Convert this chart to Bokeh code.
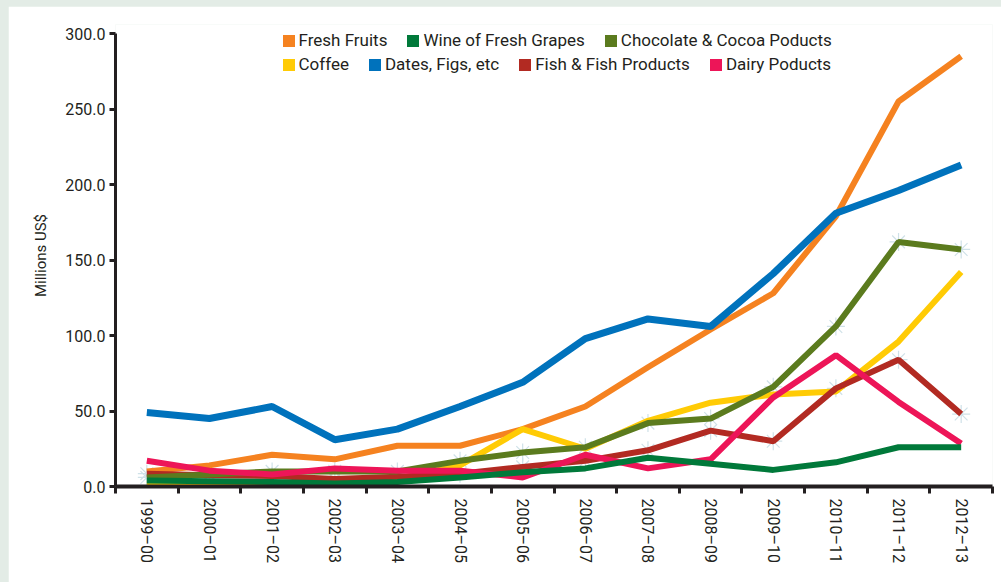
from bokeh.plotting import figure
from bokeh.layouts import column
from bokeh.models import Range1d, FixedTicker, NumeralTickFormatter, Legend, LegendItem
from bokeh.embed import file_html
from bokeh.resources import INLINE

# ---------------- data ----------------
categories = ["1999–00", "2000–01", "2001–02", "2002–03", "2003–04", "2004–05", "2005–06",
              "2006–07", "2007–08", "2008–09", "2009–10", "2010–11", "2011–12", "2012–13"]

fresh_fruits = [10, 14, 21, 18, 27, 27, 38, 53, 79, 104, 128, 179, 255, 285]
wine_grapes = [4, 3.5, 3, 2, 3, 6, 9.5, 12, 19, 15, 11, 16, 26, 26]
chocolate = [6, 8, 10, 10, 10, 17, 22.5, 26, 42, 45, 66, 106, 162, 157]
coffee = [2, 1, 0.5, 3, 5, 14, 38, 25, 43.5, 55.5, 61, 63, 96, 142]
dates_figs = [49, 45, 53, 31, 38, 53, 69, 98, 111, 106, 141, 181, 196, 213]
fish = [8.5, 7.5, 7, 5, 6.5, 8.5, 13, 17, 24, 37, 30, 65, 84, 48]
dairy = [17, 10.5, 8, 12, 10.5, 10.5, 6, 21, 12, 18, 59, 87, 56, 28.5]

y_ticks = [0, 50, 100, 150, 200, 250, 300]

series_names = ["Fresh Fruits", "Wine of Fresh Grapes", "Chocolate & Cocoa Poducts",
                "Coffee", "Dates, Figs, etc", "Fish & Fish Products", "Dairy Poducts"]
series_values = [fresh_fruits, wine_grapes, chocolate, coffee, dates_figs, fish, dairy]
series_colors = ["#F58220", "#00793A", "#5B7B1E", "#FFCB05", "#0072BC", "#B22A22", "#ED1558"]

FONT = "Roboto"
DARK = "#231F20"

xs = [i + 0.5 for i in range(len(categories))]

p = figure(width=993, height=576, output_backend="svg", toolbar_location=None,
           x_range=Range1d(0, len(categories)), y_range=Range1d(0, 306),
           min_border_left=107, min_border_top=18, min_border_right=9, min_border_bottom=96)
p.outline_line_color = None
p.grid.visible = False
p.background_fill_color = "white"
p.border_fill_color = "white"

# faint asterisk markers (under the lines) on chocolate and fish series
for vals in (chocolate, fish):
    p.scatter(xs, vals, marker="asterisk", size=18, line_color="#CFE1E8", line_width=1.2)

# draw order
order = [0, 3, 5, 2, 6, 1, 4]
widths = {4: 7}
for i in order:
    p.line(xs, series_values[i], line_color=series_colors[i], line_width=widths.get(i, 6))

# legend swatches: zero-area quads built from each series (invisible in the plot)
swatches = []
for vals, c in zip(series_values, series_colors):
    swatches.append(p.quad(left=xs, right=xs, top=vals, bottom=vals,
                           fill_color=c, line_color=None))

def make_legend(idx, loc):
    lg = Legend(items=[LegendItem(label=series_names[i], renderers=[swatches[i]]) for i in idx],
                location=loc, orientation="horizontal", spacing=18,
                padding=0, margin=0, border_line_color=None, background_fill_alpha=0,
                glyph_width=15, glyph_height=15, label_standoff=3,
                label_text_font=FONT, label_text_font_size="17px", label_text_color=DARK)
    p.add_layout(lg, "center")

make_legend([0, 1, 2], (165.5, 436))
make_legend([3, 4, 5, 6], (165.5, 412))

# x axis
xa = p.xaxis[0]
xa.ticker = FixedTicker(ticks=xs, minor_ticks=list(range(len(categories) + 1)))
xa.major_label_overrides = {x: c for x, c in zip(xs, categories)}
xa.major_label_orientation = "vertical"
xa.major_tick_line_color = None
xa.major_tick_out = 7
xa.major_tick_in = 0
xa.minor_tick_line_color = DARK
xa.minor_tick_line_width = 3
xa.minor_tick_out = 7
xa.minor_tick_in = 0
xa.axis_line_color = DARK
xa.axis_line_width = 4
xa.major_label_standoff = 5
xa.major_label_text_font = FONT
xa.major_label_text_font_size = "16px"
xa.major_label_text_color = DARK

# y axis
ya = p.yaxis[0]
ya.ticker = FixedTicker(ticks=y_ticks, minor_ticks=[])
ya.bounds = (min(y_ticks), max(y_ticks))
ya.formatter = NumeralTickFormatter(format="0.0")
ya.major_tick_line_color = DARK
ya.major_tick_line_width = 3
ya.major_tick_out = 6
ya.major_tick_in = 0
ya.minor_tick_line_color = None
ya.axis_line_color = DARK
ya.axis_line_width = 3
ya.major_label_standoff = 4
ya.major_label_text_font = FONT
ya.major_label_text_font_size = "16px"
ya.major_label_text_color = DARK
ya.axis_label = "Millions US$"
ya.axis_label_text_font = FONT
ya.axis_label_text_font_size = "15px"
ya.axis_label_text_font_style = "normal"
ya.axis_label_text_color = DARK
ya.axis_label_standoff = 12

layout = column(p, styles={"background-color": "#E3ECE6", "padding-left": "8px",
                           "padding-top": "6px"})

open("out.html", "w").write(file_html(layout, INLINE))
